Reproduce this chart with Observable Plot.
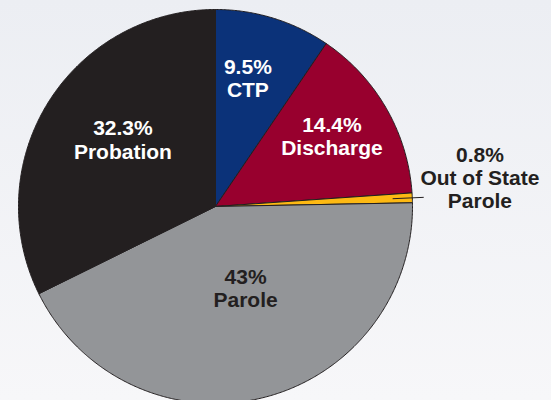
<!DOCTYPE html>
<html><head><meta charset="utf-8">
<script src="https://cdn.jsdelivr.net/npm/d3@7"></script>
<script src="https://cdn.jsdelivr.net/npm/@observablehq/plot@0.6"></script>
<style>
html,body{margin:0;padding:0;overflow:hidden;}
body{width:551px;height:400px;background:linear-gradient(to bottom,#eceef3,#f7f7f9);}
svg{display:block;}
</style></head><body><div id="chart"></div>
<script>
// ---- data ----
const categories = ["CTP", "Discharge", "Out of State Parole", "Parole", "Probation"];
const shares = [9.5, 14.4, 0.8, 43, 32.3];
const valueLabels = ["9.5%", "14.4%", "0.8%", "43%", "32.3%"];
const labelNames = ["CTP", "Discharge", "Out of State\nParole", "Parole", "Probation"];

// ---- style / layout ----
const colors = ["#0b3279", "#98002e", "#fdb913", "#939598", "#231f20"];
const textColors = ["#ffffff", "#ffffff", "#231f20", "#231f20", "#ffffff"];
const labelRadius = [0.67, 0.69, 1.35, 0.44, 0.58];      // fraction of pie radius
const labelAngleNudge = [-2.9, -1.2, -3.7, -6.6, 4.0];    // degrees
const outsideLabel = [false, false, true, false, false];
const R = 197, cx = 215, cy = 206;

const arcs = d3.pie().sort(null).value(d => d)(shares);
const deg = Math.PI / 180;

// slice outlines in unit-circle coordinates
const slicePts = [];
arcs.forEach((a, i) => {
  const n = Math.max(2, Math.ceil((a.endAngle - a.startAngle) / (0.4 * deg)));
  slicePts.push({cat: categories[i], x: 0, y: 0});
  for (let k = 0; k <= n; k++) {
    const t = a.startAngle + (a.endAngle - a.startAngle) * k / n;
    slicePts.push({cat: categories[i], x: Math.sin(t), y: Math.cos(t)});
  }
  slicePts.push({cat: categories[i], x: 0, y: 0});
});

const labels = arcs.map((a, i) => {
  const t = (a.startAngle + a.endAngle) / 2 + labelAngleNudge[i] * deg;
  return {
    x: labelRadius[i] * Math.sin(t), y: labelRadius[i] * Math.cos(t),
    text: valueLabels[i] + "\n" + labelNames[i], color: textColors[i]
  };
});

const leaders = arcs.filter((a, i) => outsideLabel[i]).map(a => {
  const t = (a.startAngle + a.endAngle) / 2;
  return {x1: 0.9 * Math.sin(t), y1: 0.9 * Math.cos(t), x2: 1.058 * Math.sin(t), y2: 1.058 * Math.cos(t)};
});

const textOpts = {
  x: "x", y: "y", text: "text",
  fontSize: 21, fontWeight: "bold", lineHeight: 1.1,
  fontFamily: "'Liberation Sans', Arial, Helvetica, sans-serif"
};

const chart = Plot.plot({
  width: 551, height: 400, margin: 0,
  x: {domain: [-1, 1], range: [cx - R, cx + R], axis: null},
  y: {domain: [-1, 1], range: [cy + R, cy - R], axis: null},
  color: {domain: categories, range: colors},
  style: {background: "transparent", overflow: "hidden"},
  marks: [
    Plot.line(slicePts, {x: "x", y: "y", z: "cat", fill: "cat", stroke: "#231f20", strokeWidth: 1, strokeLinejoin: "round"}),
    Plot.link(leaders, {x1: "x1", y1: "y1", x2: "x2", y2: "y2", stroke: "#231f20", strokeWidth: 1}),
    Plot.text(labels.filter(d => d.color === "#ffffff"), {...textOpts, fill: "#ffffff"}),
    Plot.text(labels.filter(d => d.color !== "#ffffff"), {...textOpts, fill: "#231f20"})
  ]
});
document.getElementById("chart").appendChild(chart);
</script>
</body></html>
